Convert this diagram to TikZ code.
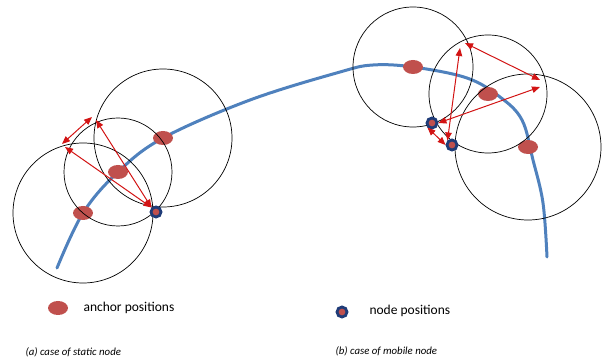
\documentclass[tikz,border=0pt]{standalone}
\usepackage{fontspec}
\setmainfont{Carlito}
\usetikzlibrary{shapes.geometric}
\usetikzlibrary{arrows.meta}
\definecolor{anchred}{RGB}{192,80,77}
\definecolor{trackblue}{RGB}{79,129,189}
\definecolor{mobblue}{RGB}{31,60,120}
\definecolor{rangered}{RGB}{210,20,20}
\tikzset{
    track/.style = {line width=3pt,draw=trackblue,line cap=round},
    anchorpos/.style = {ellipse, fill=anchred, minimum width=20pt, minimum height=14pt, inner sep=0pt},
    nodepos/.style = {circle, fill=anchred, draw=mobblue, line width=2.8pt, minimum size=10pt, inner sep=0pt},
    rangecircle/.style = {circle, draw=black, line width=0.7pt, inner sep=0pt},
    edger/.style = {{Triangle[length=8pt,width=6.5pt]}-{Triangle[length=8pt,width=6.5pt]},line width=1pt,rangered},
    legend/.style = {anchor=west, font=\fontsize{13.5}{16}\selectfont},
    caption/.style = {anchor=west, font=\fontsize{10.8}{13}\selectfont\itshape}
}
\begin{document}
\begin{tikzpicture}[x=1pt,y=-1pt]
  \useasboundingbox (0,0) rectangle (606,363);
  % track
  \draw[track] plot[smooth, tension=0.6] coordinates {(57,268) (83,213) (118,172) (163,138) (250,100)
    (340,72) (373,65) (413,67) (467,78) (500,97) (522,120) (533,160) (543,203) (547,257)};
  % (a) static node
  \node[anchorpos] (a1) at (83,213) {};
  \node[anchorpos] (a2) at (118,172) {};
  \node[anchorpos] (a3) at (163,138) {};
  \node[rangecircle, minimum size=140pt] (c1) at (a1) {};
  \node[rangecircle, minimum size=108pt] (c2) at (a2) {};
  \node[rangecircle, minimum size=138pt] (c3) at (a3) {};
  \node[nodepos] (s) at (156,212) {};
  \coordinate (p1) at (65,147);
  \coordinate (p2) at (96,120);
  \coordinate (p3) at (62,144);
  \coordinate (p4) at (92,117);
  \draw[edger] (s.north west) -- (p1);
  \draw[edger] (s.north west) -- (p2);
  \draw[edger] (p3) -- (p4);
  % (b) mobile node
  \node[anchorpos] (b1) at (413,67) {};
  \node[anchorpos] (b2) at (488,94) {};
  \node[anchorpos] (b3) at (528,147) {};
  \node[rangecircle, minimum size=120pt] (d1) at (b1) {};
  \node[rangecircle, minimum size=118pt] (d2) at (b2) {};
  \node[rangecircle, minimum size=146pt] (d3) at (b3) {};
  \node[nodepos] (m1) at (432,123) {};
  \node[nodepos] (m2) at (452,145) {};
  \coordinate (q1) at (465,43);
  \coordinate (q2) at (540,80);
  \coordinate (q3) at (460,48);
  \coordinate (q4) at (540,87);
  \draw[edger] (q1) -- (q2);
  \draw[edger] (q3) -- (m2.north west);
  \draw[edger] (q4) -- (m1.east);
  \draw[edger] (m1.south west) -- (m2.west);
  % legend
  \node[anchorpos] (la) at (58,308) {};
  \node[legend] (ta) at (80,308) {anchor positions};
  \node[nodepos] (lm) at (342,312) {};
  \node[legend] (tm) at (366,311) {node positions};
  \node[caption] (capa) at (22,352) {(a) case of static node};
  \node[caption] (capb) at (332,351) {(b) case of mobile node};
\end{tikzpicture}
\end{document}
